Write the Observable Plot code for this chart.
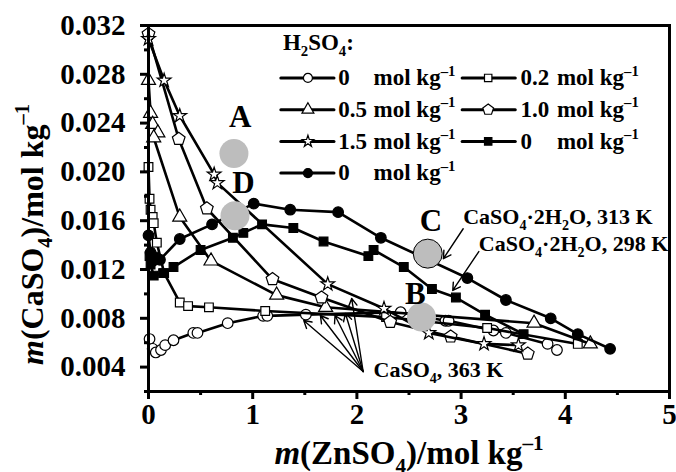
<!DOCTYPE html>
<html><head><meta charset="utf-8">
<script src="https://cdn.jsdelivr.net/npm/d3@7"></script>
<script src="https://cdn.jsdelivr.net/npm/@observablehq/plot@0.6"></script>
<style>body{margin:0;background:#fff}</style>
</head><body><div id="chart"></div>
<script>
// ---- data ----
const circ0_x = [0.01,0.04,0.07,0.12,0.16,0.24,0.43,0.47,0.76,1.10,1.14,1.51,2.42,2.85,2.88,3.31,3.43,3.83,3.92];
const circ0_y = [0.0063,0.0055,0.0052,0.0054,0.0058,0.0062,0.0068,0.0068,0.0076,0.0082,0.0082,0.0083,0.0085,0.0078,0.0078,0.0070,0.0068,0.0059,0.0054];
const sq02_x = [0.00,0.01,0.02,0.04,0.05,0.08,0.15,0.30,0.38,0.58,1.12,2.28,3.25,4.12];
const sq02_y = [0.0204,0.0178,0.0169,0.0163,0.0158,0.0142,0.0117,0.0093,0.0090,0.0089,0.0086,0.0081,0.0072,0.0059];
const tri05_x = [0.00,0.02,0.04,0.09,0.05,0.30,0.60,1.23,1.70,3.70,4.24];
const tri05_y = [0.0275,0.0248,0.0239,0.0232,0.0228,0.0163,0.0127,0.0099,0.0089,0.0076,0.0059];
const pent10_x = [0.00,0.29,0.56,1.19,1.66,2.32,2.90,3.64];
const pent10_y = [0.0313,0.0227,0.0170,0.0112,0.0097,0.0077,0.0065,0.0051];
const star15_x = [0.00,0.15,0.30,0.63,0.66,1.72,2.26,2.69,3.22,3.55];
const star15_y = [0.0309,0.0275,0.0246,0.0198,0.0191,0.0108,0.0088,0.0068,0.0059,0.0058];
const fsq298_x = [0.01,0.02,0.05,0.14,0.24,0.50,0.81,0.91,1.09,1.39,1.68,2.11,2.16,2.45,2.72,2.95,3.23,3.60];
const fsq298_y = [0.0131,0.0124,0.0115,0.0117,0.0122,0.0136,0.0146,0.0150,0.0157,0.0154,0.0143,0.0131,0.0136,0.0122,0.0104,0.0097,0.0083,0.0067];
const fci313_x = [0.00,0.02,0.04,0.07,0.11,0.30,0.61,1.01,1.36,1.82,2.23,3.06,3.43,3.86,4.12,4.43];
const fci313_y = [0.0148,0.0134,0.0127,0.0130,0.0128,0.0145,0.0157,0.0174,0.0169,0.0167,0.0146,0.0113,0.0095,0.0080,0.0067,0.0055];

// gray regions A-D
const region_labels = ["A","B","C","D"];
const region_x = [0.82,2.62,2.68,0.83];
const region_y = [0.0215,0.0081,0.0133,0.0164];
const region_label_x = [0.88,2.56,2.71,0.91];
const region_label_y = [0.0245,0.0100,0.0160,0.0191];

// axis ticks
const x_ticks = [0,1,2,3,4,5];
const x_minor = [0.5,1.5,2.5,3.5,4.5];
const y_ticks = [0.004,0.008,0.012,0.016,0.020,0.024,0.028,0.032];
const y_minor = [0.002,0.006,0.010,0.014,0.018,0.022,0.026,0.030];

// legend
const legend_numbers = ["0","0.2","0.5","1.0","1.5","0","0"];
const legend_title = "H_{2}SO_{4}:";
const legend_unit = "mol kg^{–1}";

// annotations
const note_texts = ["CaSO_{4}·2H_{2}O, 313 K","CaSO_{4}·2H_{2}O, 298 K","CaSO_{4}, 363 K"];
const note_x = [3.02,3.17,2.16];
const note_y = [0.01634,0.01413,0.00380];
const arrow_x1 = [3.02,3.17,2.06,2.06,2.06,2.06,2.06];
const arrow_y1 = [0.01534,0.01347,0.00364,0.00364,0.00364,0.00364,0.00364];
const arrow_x2 = [2.83,2.92,1.49,1.65,1.79,1.89,1.95];
const arrow_y2 = [0.01289,0.01028,0.00782,0.00823,0.00823,0.00839,0.00962];

// ---- symbols ----
const symbolPentagon = {draw(ctx, size){
  const R = Math.sqrt(size / (2.5*Math.sin(2*Math.PI/5)));
  for (let i=0;i<5;i++){const a=-Math.PI/2+i*2*Math.PI/5; const px=R*Math.cos(a), py=R*Math.sin(a); i?ctx.lineTo(px,py):ctx.moveTo(px,py);}
  ctx.closePath();
}};

const series = [
  {x:circ0_x, y:circ0_y, symbol:"circle", fill:"white", r:5.3, num:legend_numbers[0], col:0, row:0},
  {x:sq02_x, y:sq02_y, symbol:"square", fill:"white", r:4.9, num:legend_numbers[1], col:1, row:0},
  {x:tri05_x, y:tri05_y, symbol:"triangle", fill:"white", r:5.2, num:legend_numbers[2], col:0, row:1},
  {x:pent10_x, y:pent10_y, symbol:symbolPentagon, fill:"white", r:5.8, num:legend_numbers[3], col:1, row:1},
  {x:star15_x, y:star15_y, symbol:d3.symbolStar, fill:"white", r:4.3, num:legend_numbers[4], col:0, row:2},
  {x:fsq298_x, y:fsq298_y, symbol:"square", fill:"black", r:4.9, num:legend_numbers[5], col:1, row:2},
  {x:fci313_x, y:fci313_y, symbol:"circle", fill:"black", r:5.3, num:legend_numbers[6], col:0, row:3}
];

// legend layout in data units
const LG = {rows:[0.0277,0.0251,0.0225,0.0199], lineX:[[1.27,1.78],[3.01,3.52]], markX:[1.53,3.26], numX:[1.82,3.57], molX:[2.16,3.92], titleX:1.29, titleY:0.0306};

const FONT = "'Liberation Serif','Times New Roman',serif";
const marks = [];

// series
for (const s of series){
  const data = s.x.map((x,i)=>({x, y:s.y[i]}));
  marks.push(Plot.line(data, {x:"x", y:"y", stroke:"black", strokeWidth:2.6}));
  marks.push(Plot.dot(data, {x:"x", y:"y", symbol:()=>s.symbol, r:s.r, fill:s.fill, stroke:"black", strokeWidth:1.2}));
  // legend
  const ly = LG.rows[s.row];
  marks.push(Plot.line([{x:LG.lineX[s.col][0], y:ly},{x:LG.lineX[s.col][1], y:ly}], {x:"x", y:"y", stroke:"black", strokeWidth:3}));
  marks.push(Plot.dot([{x:LG.markX[s.col], y:ly}], {x:"x", y:"y", symbol:()=>s.symbol, r:s.r*0.85, fill:s.fill, stroke:"black", strokeWidth:1.2}));
  marks.push(Plot.text([{x:LG.numX[s.col], y:ly, t:s.num}], {x:"x", y:"y", text:"t", textAnchor:"start", fontSize:23, fontWeight:"bold"}));
  marks.push(Plot.text([{x:LG.molX[s.col], y:ly, t:legend_unit}], {x:"x", y:"y", text:"t", textAnchor:"start", fontSize:23, fontWeight:"bold"}));
}
marks.push(Plot.text([{x:LG.titleX, y:LG.titleY, t:legend_title}], {x:"x", y:"y", text:"t", textAnchor:"start", fontSize:23, fontWeight:"bold"}));

// gray regions (drawn over the curves)
marks.push(Plot.dot(region_labels.map((l,i)=>({x:region_x[i], y:region_y[i], l})), {x:"x", y:"y", r:14.5, fill:"#bdbdbd", stroke:d=>d.l==="C"?"black":"none", strokeWidth:1}));
marks.push(Plot.text(region_labels.map((l,i)=>({x:region_label_x[i], y:region_label_y[i], l})), {x:"x", y:"y", text:"l", fontSize:31, fontWeight:"bold", fill:"black"}));

// annotations
marks.push(Plot.arrow(arrow_x1.map((x,i)=>({x1:x, y1:arrow_y1[i], x2:arrow_x2[i], y2:arrow_y2[i]})), {x1:"x1", y1:"y1", x2:"x2", y2:"y2", stroke:"black", strokeWidth:1.4, headLength:9}));
marks.push(Plot.text(note_texts.map((t,i)=>({t, x:note_x[i], y:note_y[i]})), {x:"x", y:"y", text:"t", textAnchor:"start", fontSize:22, fontWeight:"bold"}));

// axes
marks.push(Plot.axisX({ticks:x_ticks, tickSize:8, tickPadding:4, strokeWidth:3, fontSize:29, label:null, tickFormat:d=>String(d)}));
marks.push(Plot.axisX({ticks:x_minor, tickSize:4, strokeWidth:3, label:null, tickFormat:()=>""}));
marks.push(Plot.axisY({ticks:y_ticks, tickSize:8, tickPadding:15, strokeWidth:3, fontSize:29, label:null, tickFormat:d3.format(".3f")}));
marks.push(Plot.axisY({ticks:y_minor, tickSize:4, strokeWidth:3, label:null, tickFormat:()=>""}));
marks.push(Plot.frame({stroke:"black", strokeWidth:3}));

// axis titles
marks.push(Plot.text(["*m*(ZnSO_{4})/mol kg^{–1}"], {frameAnchor:"bottom", textAnchor:"middle", dy:72, fontSize:33, fontWeight:"bold"}));
marks.push(Plot.text(["*m*(CaSO_{4})/mol kg^{–1}"], {frameAnchor:"left", textAnchor:"middle", dx:-116, dy:26, rotate:-90, fontSize:32, fontWeight:"bold"}));

const plot = Plot.plot({
  width:676, height:472,
  marginTop:25, marginRight:7, marginBottom:81, marginLeft:148,
  x:{domain:[0,5]}, y:{domain:[0.002,0.032]},
  style:{fontFamily:FONT, fontWeight:"bold", background:"white", color:"black", overflow:"visible"},
  marks
});
document.getElementById("chart").appendChild(plot);

// rich text: _{sub}, ^{sup}, *italic*
function rich(root){
  root.querySelectorAll("text").forEach(t=>{
    const s = t.textContent;
    if (!/(_\{|\^\{|\*)/.test(s)) return;
    const fs = parseFloat(getComputedStyle(t).fontSize) || 16;
    const parts = s.split(/(_\{[^}]*\}|\^\{[^}]*\}|\*[^*]*\*)/).filter(p=>p.length);
    while (t.firstChild) t.removeChild(t.firstChild);
    let off = 0;
    for (const p of parts){
      const ts = document.createElementNS("http://www.w3.org/2000/svg","tspan");
      let shift = 0, txt = p, small = false, ital = false;
      if (p.startsWith("_{")) {shift = 0.28*fs; txt = p.slice(2,-1); small = true;}
      else if (p.startsWith("^{")) {shift = -0.42*fs; txt = p.slice(2,-1); small = true;}
      else if (p.startsWith("*") && p.endsWith("*") && p.length>1) {txt = p.slice(1,-1); ital = true;}
      if (shift - off !== 0) ts.setAttribute("dy", (shift - off) + "px");
      off = shift;
      if (small) ts.setAttribute("font-size", (0.64*fs) + "px");
      if (ital) ts.setAttribute("font-style", "italic");
      ts.textContent = txt;
      t.appendChild(ts);
    }
  });
}
rich(plot);
</script></body></html>
